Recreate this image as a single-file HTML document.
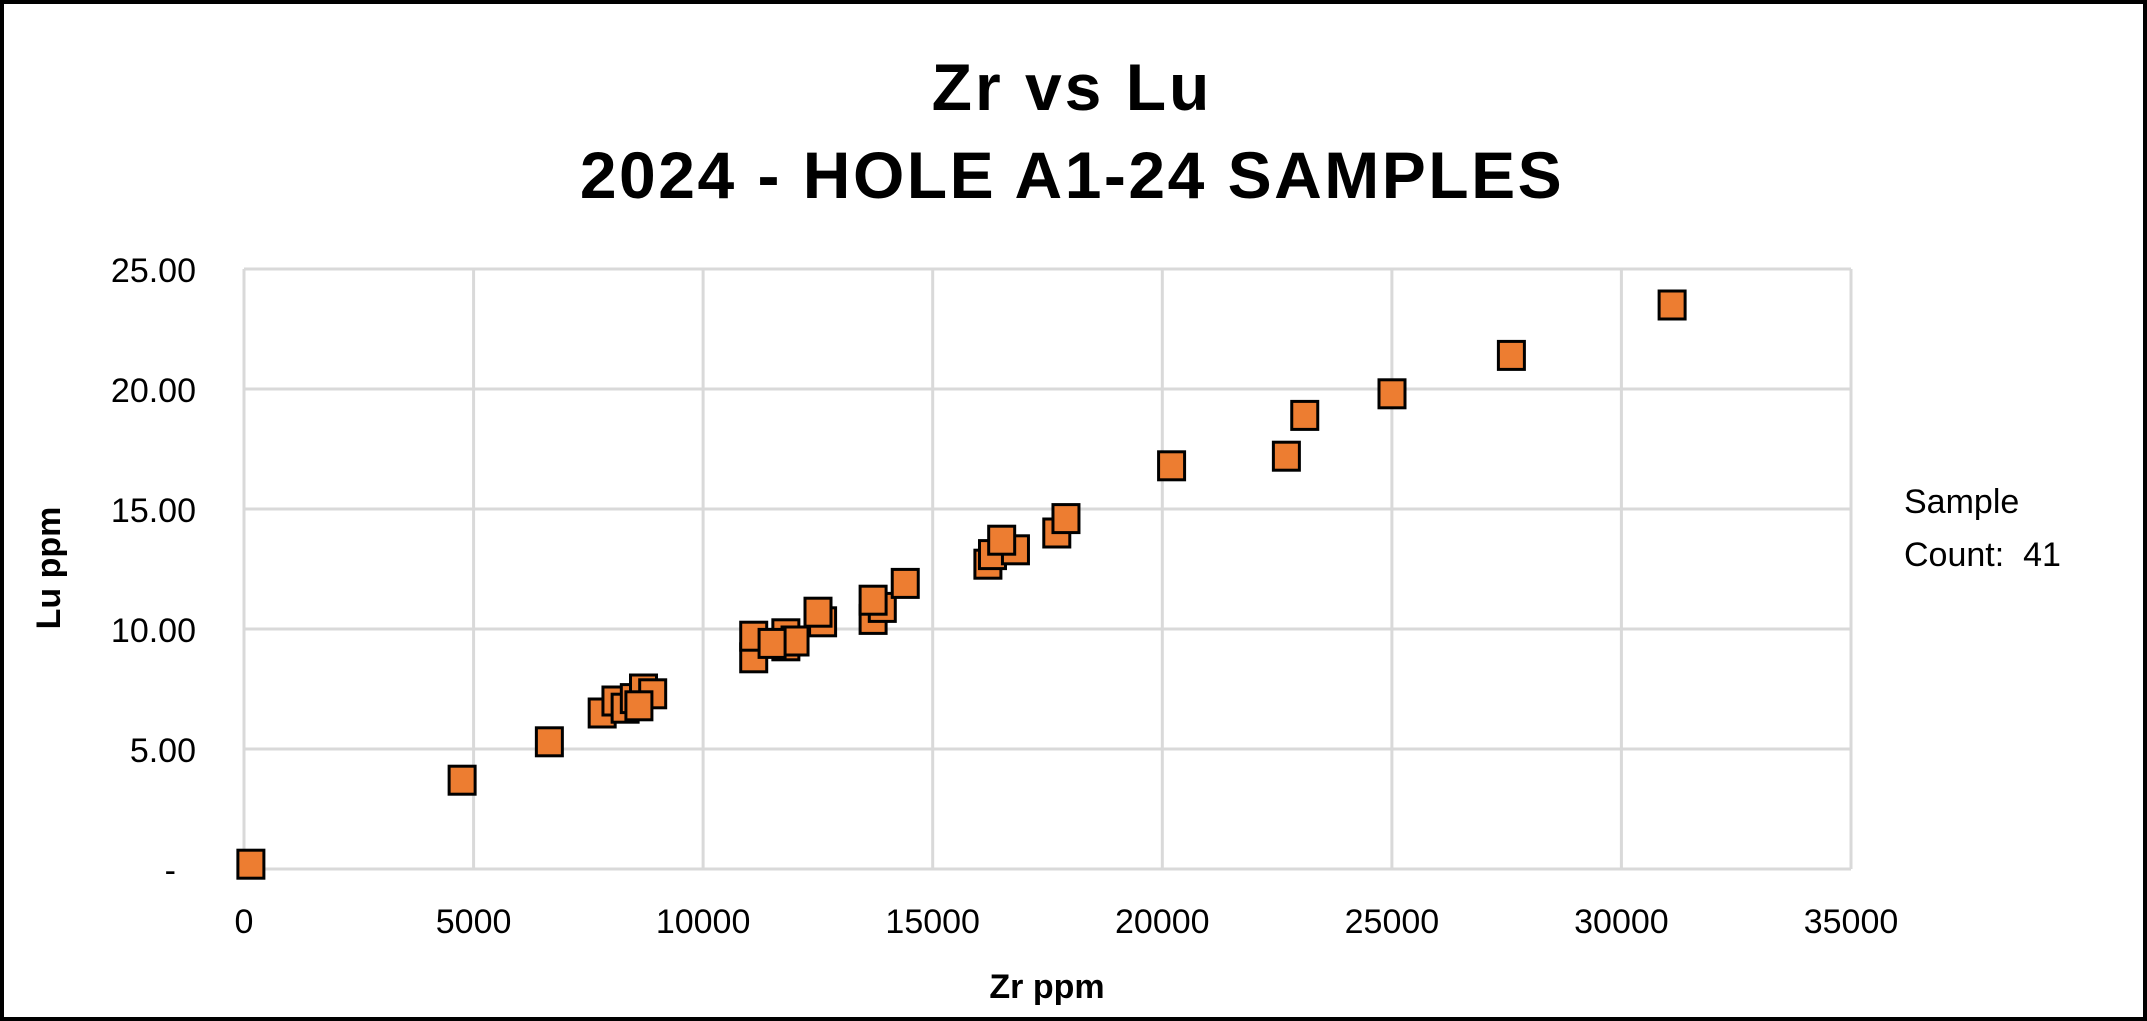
<!DOCTYPE html>
<html><head><meta charset="utf-8"><style>
html,body{margin:0;padding:0;background:#fff}
svg{display:block}
text{font-family:"Liberation Sans",sans-serif;fill:#000}
</style></head><body>
<svg width="2147" height="1021" viewBox="0 0 2147 1021" xmlns="http://www.w3.org/2000/svg">
<rect x="2" y="2" width="2143" height="1017" fill="#fff" stroke="#000" stroke-width="4"/>
<text x="1072" y="110" font-size="66" font-weight="bold" text-anchor="middle" letter-spacing="3">Zr vs Lu</text>
<text x="1072" y="198" font-size="66" font-weight="bold" text-anchor="middle" letter-spacing="2.5">2024 - HOLE A1-24 SAMPLES</text>
<g stroke="#d9d9d9" stroke-width="3" fill="none">
<line x1="244" y1="269" x2="1851" y2="269"/>
<line x1="244" y1="389" x2="1851" y2="389"/>
<line x1="244" y1="509" x2="1851" y2="509"/>
<line x1="244" y1="629" x2="1851" y2="629"/>
<line x1="244" y1="749" x2="1851" y2="749"/>
<line x1="244" y1="869" x2="1851" y2="869"/>
<line x1="244" y1="269" x2="244" y2="869"/>
<line x1="473.6" y1="269" x2="473.6" y2="869"/>
<line x1="703.1" y1="269" x2="703.1" y2="869"/>
<line x1="932.7" y1="269" x2="932.7" y2="869"/>
<line x1="1162.3" y1="269" x2="1162.3" y2="869"/>
<line x1="1391.9" y1="269" x2="1391.9" y2="869"/>
<line x1="1621.4" y1="269" x2="1621.4" y2="869"/>
<line x1="1851" y1="269" x2="1851" y2="869"/>
</g>
<g font-size="34" text-anchor="end">
<text x="196" y="282">25.00</text>
<text x="196" y="402">20.00</text>
<text x="196" y="522">15.00</text>
<text x="196" y="642">10.00</text>
<text x="196" y="762">5.00</text>
<text x="176" y="882">-</text>
</g>
<g font-size="34" text-anchor="middle">
<text x="244" y="933">0</text>
<text x="473.6" y="933">5000</text>
<text x="703.1" y="933">10000</text>
<text x="932.7" y="933">15000</text>
<text x="1162.3" y="933">20000</text>
<text x="1391.9" y="933">25000</text>
<text x="1621.4" y="933">30000</text>
<text x="1851" y="933">35000</text>
</g>
<text x="1047" y="998" font-size="34" font-weight="bold" text-anchor="middle">Zr ppm</text>
<text transform="translate(60,568) rotate(-90)" font-size="34" font-weight="bold" text-anchor="middle">Lu  ppm</text>
<text x="1904" y="513" font-size="34">Sample</text>
<text x="1904" y="566" font-size="34" xml:space="preserve">Count:  41</text>
<g fill="#ED7D31" stroke="#000" stroke-width="3" id="pts"></g>
</svg>
<script>
var d=[[150,0.2],[4750,3.7],[6650,5.3],[7800,6.5],[8100,7.0],[8300,6.7],[8500,7.1],[8700,7.5],[8900,7.3],[8600,6.8],[11100,8.8],[11100,9.7],[11800,9.3],[11800,9.8],[12000,9.5],[11500,9.4],[12600,10.3],[12500,10.7],[13700,10.4],[13900,10.9],[13700,11.2],[14400,11.9],[16200,12.7],[16300,13.1],[16800,13.3],[16500,13.7],[17700,14.0],[17900,14.6],[20200,16.8],[22700,17.2],[23100,18.9],[25000,19.8],[27600,21.4],[31100,23.5]];
var g=document.getElementById('pts'),s='';
d.forEach(function(p){var x=244+p[0]*0.04592,y=869-p[1]*24;s+='<rect x="'+(x-13)+'" y="'+(y-14)+'" width="26" height="28"/>';});
g.innerHTML=s;
</script>
</body></html>
